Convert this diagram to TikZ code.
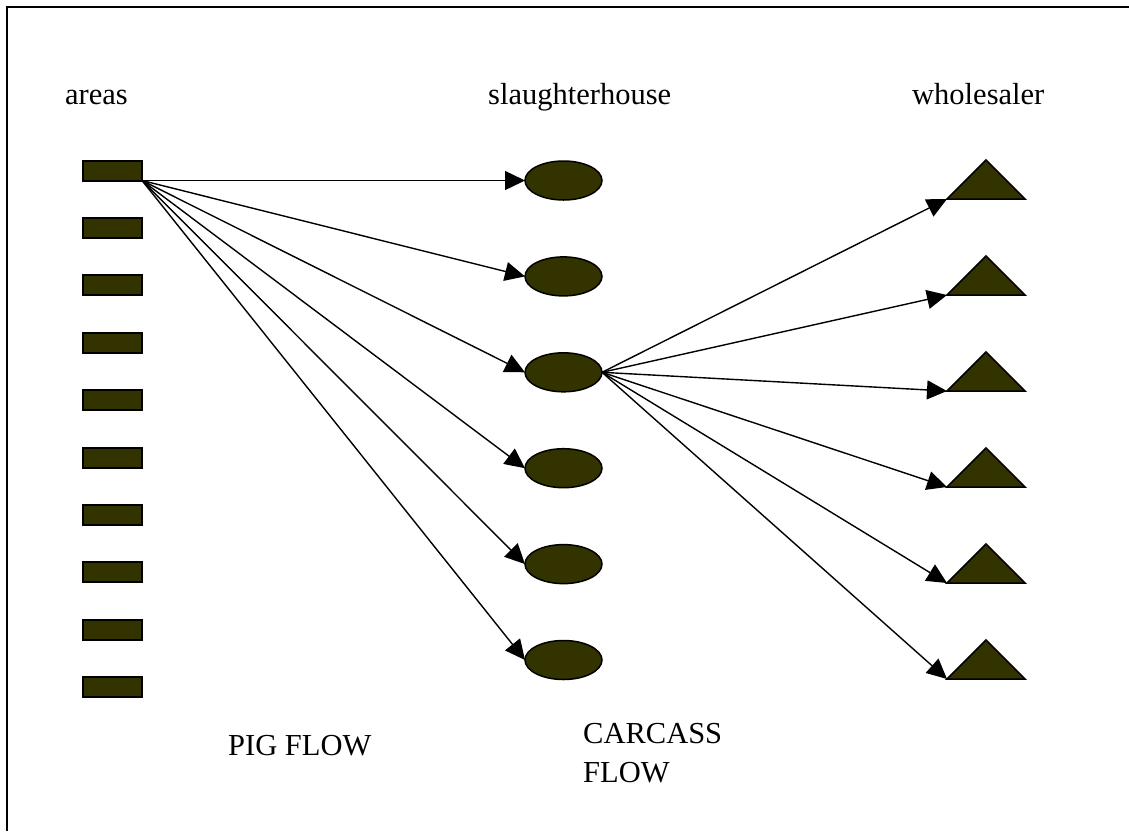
\documentclass[tikz,border=0pt]{standalone}
\usepackage{fontspec}
\setmainfont{Liberation Serif}
\usetikzlibrary{arrows.meta,shapes.geometric}
\definecolor{shapefill}{HTML}{333300}
\begin{document}
\begin{tikzpicture}[x=1pt,y=-1pt,
  frameline/.style={line width=2pt,black},
  areabox/.style={rectangle,draw=black,line width=2pt,fill=shapefill,minimum width=59pt,minimum height=20pt,inner sep=0pt,outer sep=0pt},
  slbox/.style={ellipse,draw=black,line width=1.5pt,fill=shapefill,minimum width=77pt,minimum height=39pt,inner sep=0pt,outer sep=0pt},
  whfill/.style={draw=black,line width=1.5pt,fill=shapefill,line join=miter},
  flow/.style={line width=1.4pt,-{Triangle[length=20pt,width=19pt]}},
  lbl/.style={inner sep=0pt,font=\fontsize{30.5}{39}\selectfont,anchor=base west}]
\useasboundingbox (0,0) rectangle (1129,831);
\draw[frameline] (7,831) -- (7,7) -- (1129,7);
% areas
\foreach \i in {0,...,9} \node[areabox] (a\i) at (112.5,{170.5+57.4*\i}) {};
% slaughterhouses
\foreach \i in {0,...,5} \node[slbox] (s\i) at (563.5,{180.5+95.9*\i}) {};
% wholesalers
\foreach \i in {0,...,5} {
  \coordinate (w\i) at (947,{199+96*\i});
  \draw[whfill] (w\i) -- ++(39,-39) -- ++(39,39) -- cycle;
}
% flows
\foreach \i in {0,...,5} \draw[flow] (a0.south east) -- (s\i.west);
\foreach \i in {0,...,5} \draw[flow] (s2.east) -- (w\i);
% labels
\node[lbl] (tareas) at (65,104) {areas};
\node[lbl] (tslaughter) at (488,104) {slaughterhouse};
\node[lbl] (twholesaler) at (912,104) {wholesaler};
\node[lbl] (tpig) at (228,755) {PIG FLOW};
\node[inner sep=0pt,font=\fontsize{30.5}{39}\selectfont,align=left,anchor=north west] (tcarcass) at (583,723) {CARCASS\\FLOW};
\end{tikzpicture}
\end{document}
